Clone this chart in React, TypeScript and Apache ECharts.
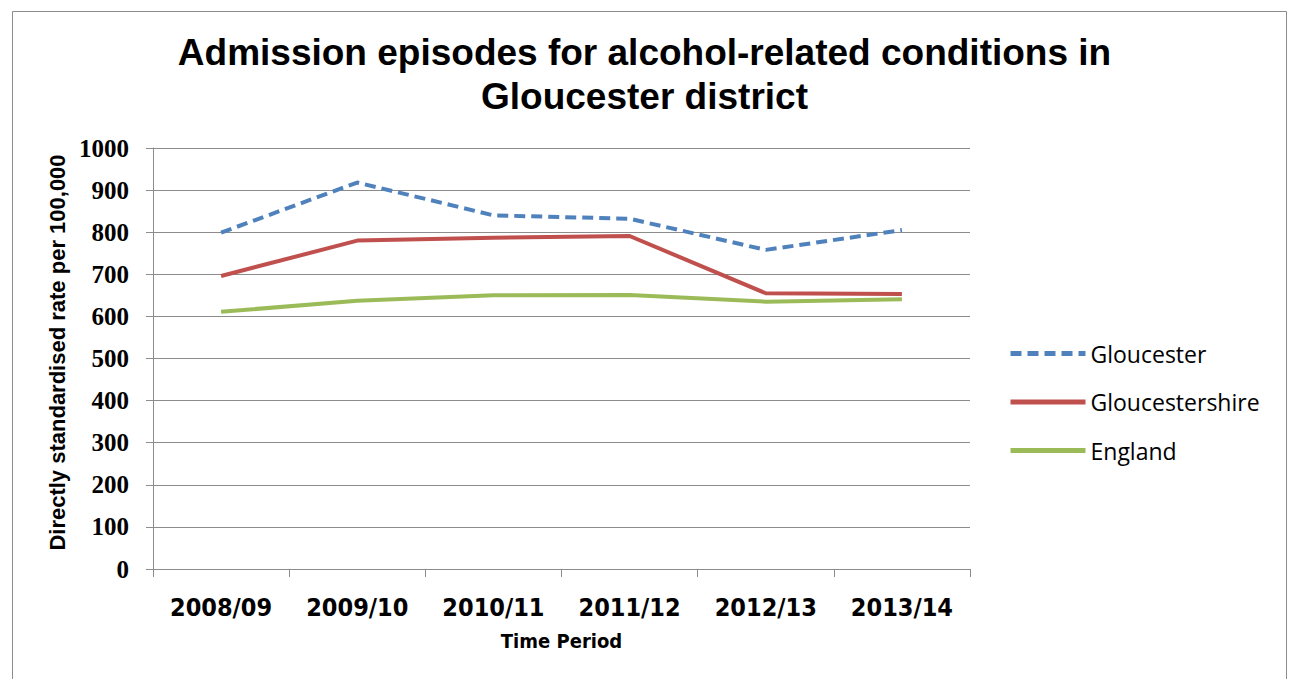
import React, { useEffect, useRef } from "react";
import * as echarts from "echarts";

const categories = ["2008/09", "2009/10", "2010/11", "2011/12", "2012/13", "2013/14"];
const gloucester = [799, 918, 840, 832, 758, 805];
const gloucestershire = [696, 780, 787, 791, 655, 653];
const england = [611, 637, 650, 651, 635, 641];
const seriesNames = ["Gloucester", "Gloucestershire", "England"];
const titleText = "Admission episodes for alcohol-related conditions in\nGloucester district";
const yAxisName = "Directly standardised rate per 100,000";
const xAxisName = "Time Period";

export default function App() {
  const ref = useRef<HTMLDivElement>(null);
  useEffect(() => {
    if (!ref.current) return;
    const chart = echarts.init(ref.current, null, { renderer: "svg" });
    const narrow = "'Liberation Sans Narrow', 'DejaVu Sans Condensed', 'Liberation Sans', sans-serif";
    chart.setOption({
      animation: false,
      backgroundColor: "#ffffff",
      graphic: [
        {
          type: "rect",
          left: 10,
          top: 9,
          shape: { width: 1274, height: 690 },
          style: { fill: "none", stroke: "#8c8c8c", lineWidth: 1 },
          silent: true,
        },
      ],
      title: {
        text: titleText,
        left: "center",
        top: 25,
        textStyle: {
          fontFamily: "'Liberation Sans', Arial, sans-serif",
          fontWeight: "bold",
          fontSize: 37,
          lineHeight: 44,
          color: "#000",
        },
      },
      legend: {
        orient: "vertical",
        left: 1003,
        top: 337,
        itemWidth: 75,
        itemHeight: 14,
        itemGap: 25.5,
        data: seriesNames,
        itemStyle: { opacity: 0 },
        lineStyle: { width: 5 },
        textStyle: {
          fontFamily: "'Open Sans', 'Liberation Sans', sans-serif",
          fontSize: 23,
          color: "#000",
        },
      },
      grid: { left: 153, right: 319, top: 148, bottom: 110, containLabel: false },
      xAxis: {
        type: "category",
        data: categories,
        boundaryGap: true,
        name: xAxisName,
        nameLocation: "middle",
        nameGap: 62,
        nameTextStyle: { fontFamily: narrow, fontWeight: "bold", fontSize: 20, color: "#000" },
        axisLine: { lineStyle: { color: "#8c8c8c", width: 1 } },
        axisTick: { show: true, length: 8, lineStyle: { color: "#8c8c8c" } },
        axisLabel: { fontFamily: narrow, fontWeight: "bold", fontSize: 25, color: "#000", margin: 26 },
      },
      yAxis: {
        type: "value",
        min: 0,
        max: 1000,
        interval: 100,
        name: yAxisName,
        nameLocation: "middle",
        nameRotate: 90,
        nameGap: 85,
        nameTextStyle: {
          fontFamily: "'Liberation Sans', sans-serif",
          fontWeight: "bold",
          fontSize: 22,
          color: "#000",
          padding: [0, 0, 0, 12],
        },
        axisLine: { show: true, lineStyle: { color: "#8c8c8c", width: 1 } },
        axisTick: { show: true, length: 7, lineStyle: { color: "#8c8c8c" } },
        axisLabel: {
          fontFamily: "'Liberation Serif', serif",
          fontWeight: "bold",
          fontSize: 25,
          color: "#000",
          margin: 24,
          formatter: (v: number) => String(v),
        },
        splitLine: { lineStyle: { color: "#8c8c8c", width: 1 } },
      },
      series: [
        {
          name: seriesNames[0],
          type: "line",
          data: gloucester,
          symbol: "none",
          lineStyle: { color: "#4F81BD", width: 4, type: [11, 6] },
          itemStyle: { color: "#4F81BD" },
        },
        {
          name: seriesNames[1],
          type: "line",
          data: gloucestershire,
          symbol: "none",
          lineStyle: { color: "#C0504D", width: 4 },
          itemStyle: { color: "#C0504D" },
        },
        {
          name: seriesNames[2],
          type: "line",
          data: england,
          symbol: "none",
          lineStyle: { color: "#9BBB59", width: 4 },
          itemStyle: { color: "#9BBB59" },
        },
      ],
    });
    return () => chart.dispose();
  }, []);
  return (
    <div
      ref={ref}
      style={{ position: "fixed", left: 0, top: 0, width: 1289, height: 679 }}
    />
  );
}
